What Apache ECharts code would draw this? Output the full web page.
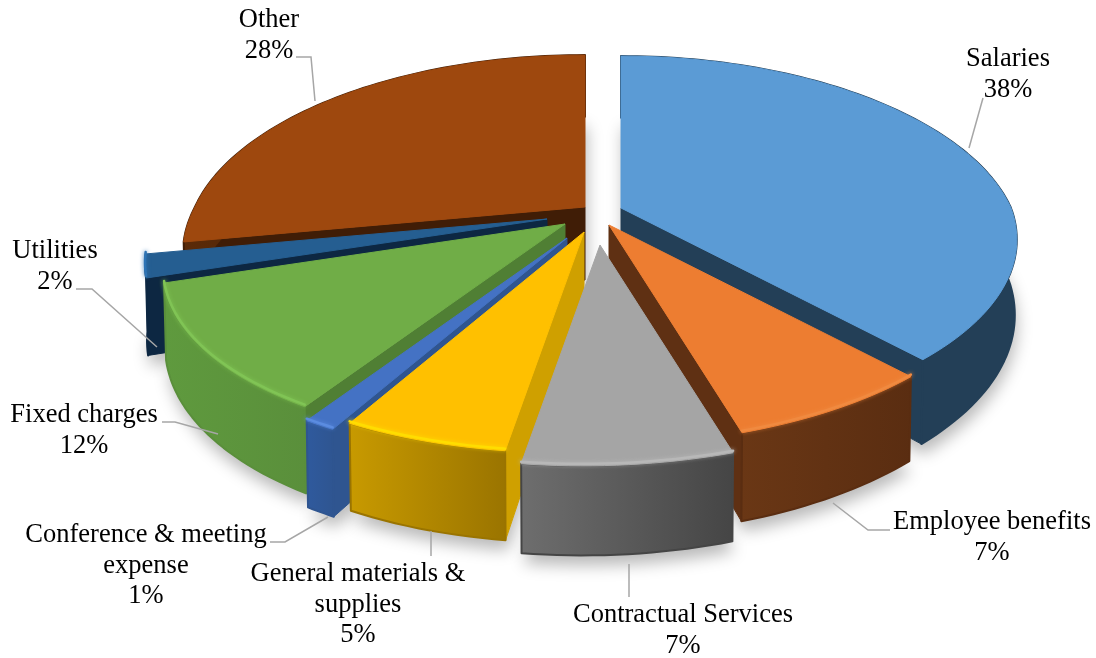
<!DOCTYPE html>
<html>
<head>
<meta charset="utf-8">
<style>html,body{margin:0;padding:0;background:#fff}#chart{width:1096px;height:658px}</style>
<script src="https://cdn.jsdelivr.net/npm/echarts@6/dist/echarts.min.js"></script>
</head>
<body>
<div id="chart"></div>
<script>
// Budget shares, clockwise from twelve o'clock
const categories = ['Salaries', 'Employee benefits', 'Contractual Services', 'General materials & supplies',
  'Conference & meeting expense', 'Fixed charges', 'Utilities', 'Other'];
const shares = [38, 7, 7, 5, 1, 12, 2, 28];

// Slice colours: top face, radial cut face, outer wall left/right, rim highlight
const topColors = ['#5B9BD5', '#ED7D31', '#A5A5A5', '#FFC000', '#4472C4', '#70AD47', '#255E91', '#9E480E'];
const cutColors = ['#233F57', '#5F3013', '#555555', '#CFA000', '#2F5590', '#507F34', '#0D2742', '#401D06'];
const wallLeft = ['#233F57', '#6A3715', '#6E6E6E', '#C89A00', '#2F5A9E', '#5F9A3E', '#0D2742', '#5A2A08'];
const wallRight = ['#233F57', '#5A2D11', '#454545', '#9A7400', '#2F5590', '#5A8F3B', '#0D2742', '#401D06'];
const rimColors = [null, '#F08A40', '#B8B8B8', '#FFDD00', '#5B8CE0', '#80C455', '#2E74B5', null];

// Where each exploded slice's apex sits on the canvas
const apexX = [621, 609, 600, 584, 567, 565, 547, 585];
const apexY = [208, 225, 245, 232, 238, 224, 219, 207];

// Label centres and their leader lines
const labelX = [1008, 992, 683, 358, 146, 84, 55, 269];
const labelY = [59, 522, 615, 574, 535, 415, 251, 20];
const labelLines = [
  ['Salaries'], ['Employee benefits'], ['Contractual Services'], ['General materials &', 'supplies'],
  ['Conference & meeting', 'expense'], ['Fixed charges'], ['Utilities'], ['Other']
];
const leaders = [
  [[983, 98], [969, 148]],
  [[890, 530], [868, 530], [833, 503]],
  [[629, 597], [629, 564]],
  [[431, 556], [431, 531]],
  [[270, 542], [285, 542], [328, 517]],
  [[162, 422], [175, 422], [218, 434]],
  [[76, 289], [92, 289], [157, 347]],
  [[296, 57], [311, 57], [315, 101]]
];

// Projection of the tilted disc
const RADIUS = 390, DEPTH = 180, PERSP = 0.185, WALL = 73, SHEAR = -0.08, BOTTOM_SHRINK = 0.995;
const WARP = 3 * Math.PI / 180, WARP_FROM = 190 * Math.PI / 180, WARP_SPAN = 60 * Math.PI / 180;
const total = shares.reduce((a, b) => a + b, 0);
const startAngles = [];
shares.reduce((acc, v, i) => { startAngles[i] = acc; return acc + v; }, 0);

// The viewpoint sits slightly off-centre, which drags the front-left rim outward
function viewAngle(theta) {
  const u = (theta - WARP_FROM) / WARP_SPAN;
  return u > 0 && u < 1 ? theta + WARP * Math.sin(Math.PI * u) : theta;
}

function project(i, angle, r, low) {
  const theta = viewAngle(angle);
  const c = Math.cos(theta), sn = Math.sin(theta);
  const s = 1 / (1 + PERSP * r * c);
  let dx = RADIUS * r * sn * Math.pow(s, 1.12);
  const dy = -DEPTH * r * c * s;
  if (dy > 0) dx += SHEAR * dy;
  if (low) dx *= BOTTOM_SHRINK;
  return [apexX[i] + dx, apexY[i] + dy + (low ? WALL * s : 0)];
}

function arc(i, a0, a1, low) {
  const pts = [];
  const n = Math.max(6, Math.ceil((a1 - a0) * 40));
  for (let k = 0; k <= n; k++) pts.push(project(i, a0 + (a1 - a0) * k / n, 1, low));
  return pts;
}

function hGrad(a, b) {
  return new echarts.graphic.LinearGradient(0, 0, 1, 0, [{ offset: 0, color: a }, { offset: 1, color: b }]);
}

function renderSlice(params, api) {
  const i = api.value(0);
  const a0 = startAngles[i] / total * Math.PI * 2;
  const a1 = (startAngles[i] + shares[i]) / total * Math.PI * 2;
  const mid = (a0 + a1) / 2;
  const rank = Math.round((1 - Math.cos(mid)) * 1000) * 10 + 100;
  const topRim = arc(i, a0, a1, false);
  const lowRim = arc(i, a0, a1, true);
  const apexTop = project(i, 0, 0, false);
  const apexLow = project(i, 0, 0, true);
  const footprint = [apexLow].concat(lowRim);
  const children = [];

  // Soft shadow cast on the page, kept under every slice
  children.push({
    type: 'polygon', z2: 1, shape: { points: footprint },
    style: { fill: '#fff', shadowBlur: 16, shadowColor: 'rgba(0,0,0,0.28)', shadowOffsetY: 10, shadowOffsetX: 2 }
  });

  const face = (rimTop, rimLow, z) => ({
    type: 'polygon', z2: rank + z,
    shape: { points: [apexTop, rimTop, rimLow, apexLow] },
    style: { fill: cutColors[i], stroke: cutColors[i], lineWidth: 1 }
  });
  if (Math.sin(a0) < -1e-6) children.push(face(topRim[0], lowRim[0], 1));
  if (Math.sin(a1) > 1e-6) children.push(face(topRim[topRim.length - 1], lowRim[lowRim.length - 1], 1));

  children.push({
    type: 'polygon', z2: rank + 2,
    shape: { points: topRim.concat(lowRim.slice().reverse()) },
    style: { fill: hGrad(wallLeft[i], wallRight[i]), stroke: wallRight[i], lineWidth: 2, lineJoin: 'round' }
  });
  children.push({
    type: 'polygon', z2: rank + 3,
    shape: { points: [apexTop].concat(topRim) },
    style: { fill: topColors[i], stroke: topColors[i], lineWidth: 1, lineJoin: 'round' }
  });
  // Bevel highlight along the front of the rim
  if (rimColors[i]) {
    children.push({
      type: 'polyline', z2: rank + 4,
      shape: { points: topRim.map(p => [p[0], p[1] - 2]) },
      style: { fill: 'none', stroke: rimColors[i], lineWidth: 2.5, shadowBlur: 4, shadowColor: rimColors[i], lineCap: 'round' }
    });
  }
  return { type: 'group', children };
}

function renderLabel(params, api) {
  const i = api.value(0);
  const lines = labelLines[i].concat([shares[i] + '%']);
  const children = [{
    type: 'polyline', z2: 2, shape: { points: leaders[i] },
    style: { fill: 'none', stroke: '#A6A6A6', lineWidth: 1.5 }
  }];
  lines.forEach((t, k) => children.push({
    type: 'text', z2: 5,
    style: {
      x: labelX[i], y: labelY[i] + k * 30.7, text: t, fill: '#000',
      font: '26.5px "Liberation Serif"', align: 'center', verticalAlign: 'middle'
    }
  }));
  return { type: 'group', children };
}

const chart = echarts.init(document.getElementById('chart'), null, { renderer: 'canvas' });
const rows = categories.map((c, i) => [i, shares[i], c]);
chart.setOption({
  animation: false,
  backgroundColor: '#fff',
  series: [
    { type: 'custom', name: 'Share', coordinateSystem: 'none', silent: true, renderItem: renderSlice, data: rows, z: 1 },
    { type: 'custom', name: 'Labels', coordinateSystem: 'none', silent: true, renderItem: renderLabel, data: rows, z: 2 }
  ]
});
</script>
</body>
</html>
